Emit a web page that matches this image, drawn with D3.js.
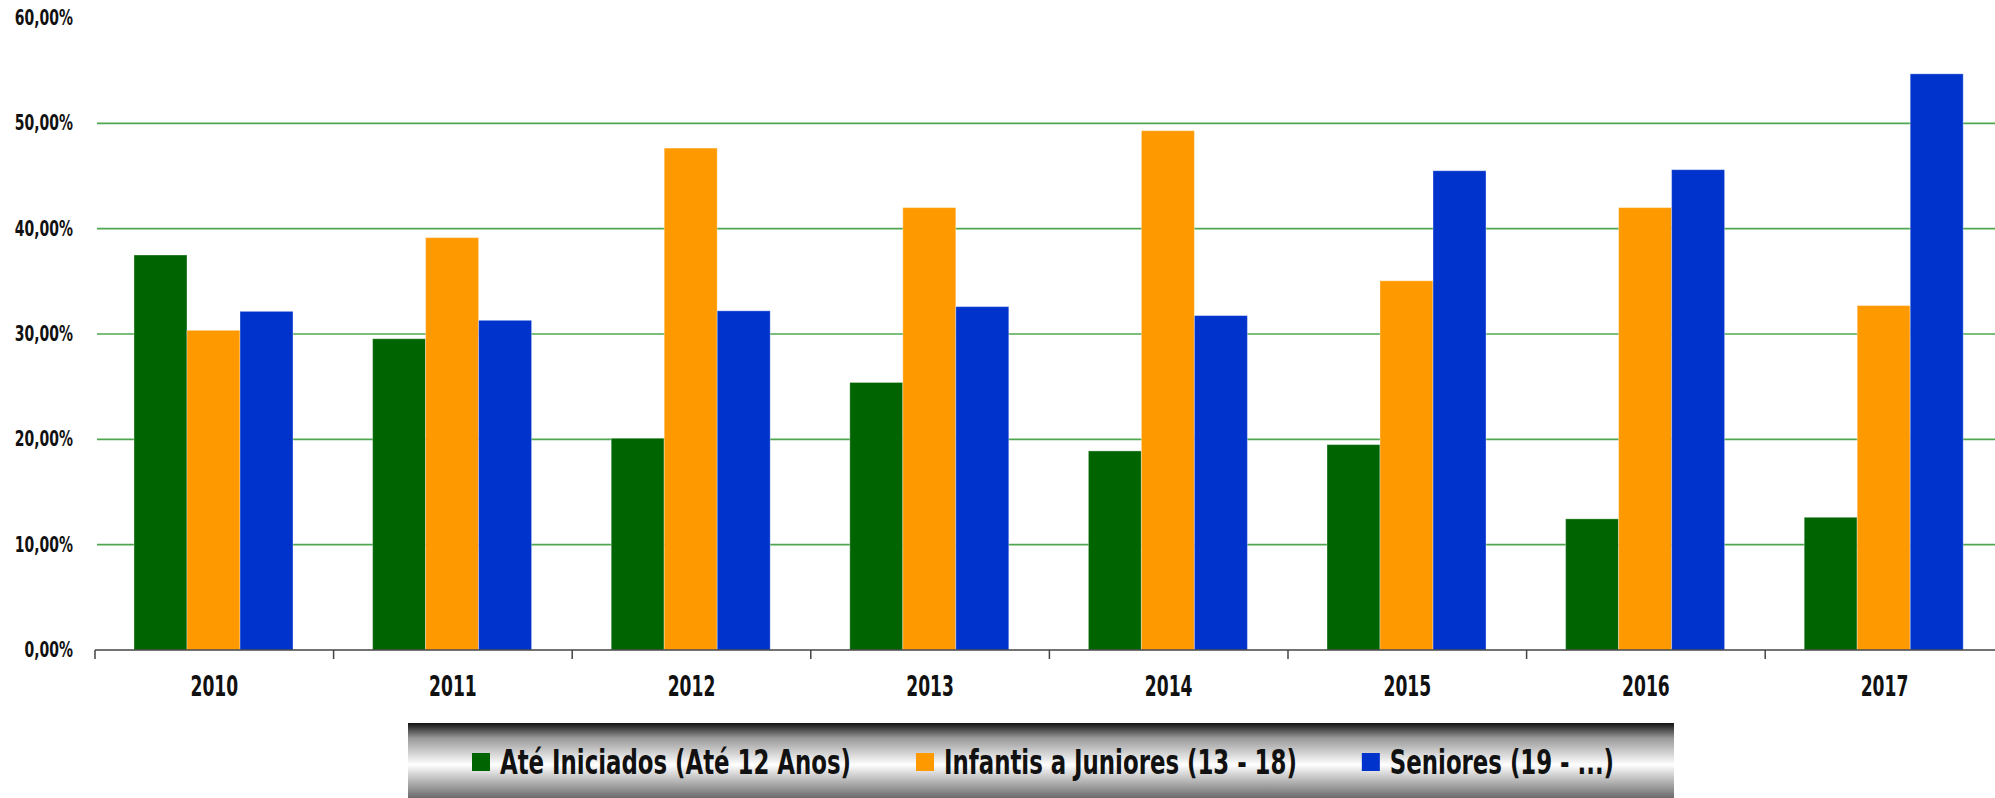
<!DOCTYPE html>
<html>
<head>
<meta charset="utf-8">
<script src="https://cdn.jsdelivr.net/npm/d3@7"></script>
<style>
  body { margin: 0; background: #fff; overflow: hidden; }
  svg { display: block; }
  text { font-family: 'DejaVu Sans Condensed', 'DejaVu Sans', sans-serif; font-weight: bold; fill: #111; }
</style>
</head>
<body>
<script>
// data
var years = ['2010','2011','2012','2013','2014','2015','2016','2017'];
var ateIniciados = [37.5, 29.55, 20.1, 25.4, 18.9, 19.5, 12.45, 12.6];
var infantisJuniores = [30.35, 39.15, 47.65, 42.0, 49.3, 35.05, 42.0, 32.7];
var seniores = [32.15, 31.3, 32.2, 32.6, 31.75, 45.5, 45.6, 54.7];
var seriesNames = ['Até Iniciados (Até 12 Anos)', 'Infantis a Juniores (13 - 18)', 'Seniores (19 - ...)'];
var seriesColors = ['#006400', '#ff9900', '#0033cc'];
var yTicks = [0, 10, 20, 30, 40, 50, 60];

var W = 1995, H = 798;
var svg = d3.select('body').append('svg').attr('width', W).attr('height', H);

var x0 = d3.scaleBand().domain(years).range([95, 95 + 8 * 238.6]).paddingInner(0).paddingOuter(0);
var x1 = d3.scaleBand().domain([0,1,2]).range([39, 39 + 159]);
var y = d3.scaleLinear().domain([0, 60]).range([650, 18]);

// narrow look: squeeze text horizontally
function squeeze(x, yy, s){ return 'translate(' + x + ',' + yy + ') scale(' + s + ',1)'; }

// gridlines
svg.append('g').selectAll('line').data(yTicks.filter(function(d){ return d > 0 && d < 60; }))
  .enter().append('line')
  .attr('x1', 97).attr('x2', W)
  .attr('y1', function(d){ return y(d); }).attr('y2', function(d){ return y(d); })
  .attr('stroke', '#4fa84f').attr('stroke-width', 1.6);

// y labels
svg.append('g').selectAll('text').data(yTicks).enter().append('text')
  .attr('transform', function(d){ return squeeze(73, y(d) + 7, 0.74); })
  .attr('text-anchor', 'end').attr('font-size', 21)
  .text(function(d){ return d.toFixed(2).replace('.', ',') + '%'; });

// bars
var allSeries = [ateIniciados, infantisJuniores, seniores];
var groups = svg.append('g').selectAll('g').data(years).enter().append('g')
  .attr('transform', function(d){ return 'translate(' + x0(d) + ',0)'; });
groups.selectAll('rect').data(function(d, i){ return allSeries.map(function(s, k){ return {k: k, v: s[i]}; }); })
  .enter().append('rect')
  .attr('x', function(d){ return x1(d.k); })
  .attr('width', x1.bandwidth())
  .attr('y', function(d){ return y(d.v); })
  .attr('height', function(d){ return y(0) - y(d.v); })
  .attr('fill', function(d){ return seriesColors[d.k]; })
  .attr('stroke', 'rgba(255,255,255,0.35)').attr('stroke-width', 1);

// x axis
var xAxis = svg.append('g');
xAxis.append('line').attr('x1', 95).attr('x2', W).attr('y1', 650).attr('y2', 650)
  .attr('stroke', '#444').attr('stroke-width', 1.5);
xAxis.selectAll('line.tk').data(years.concat(['end'])).enter().append('line')
  .attr('class', 'tk')
  .attr('x1', function(d, i){ return 95 + i * x0.step(); })
  .attr('x2', function(d, i){ return 95 + i * x0.step(); })
  .attr('y1', 650).attr('y2', 659)
  .attr('stroke', '#444').attr('stroke-width', 1.5);
xAxis.selectAll('text').data(years).enter().append('text')
  .attr('transform', function(d){ return squeeze(x0(d) + x0.bandwidth() / 2, 696, 0.68); })
  .attr('text-anchor', 'middle').attr('font-size', 28)
  .text(function(d){ return d; });

// legend
var defs = svg.append('defs');
var grad = defs.append('linearGradient').attr('id', 'lg').attr('x1', 0).attr('x2', 0).attr('y1', 0).attr('y2', 1);
grad.append('stop').attr('offset', 0).attr('stop-color', '#111');
grad.append('stop').attr('offset', 0.2).attr('stop-color', '#999');
grad.append('stop').attr('offset', 0.55).attr('stop-color', '#fff');
grad.append('stop').attr('offset', 1).attr('stop-color', '#666');
svg.append('rect').attr('x', 408).attr('y', 723).attr('width', 1266).attr('height', 76).attr('fill', 'url(#lg)');

var leg = svg.append('g');
var lx = 472, ls = 0.77;
seriesNames.forEach(function(name, k){
  leg.append('rect').attr('x', lx).attr('y', 753).attr('width', 18).attr('height', 18).attr('fill', seriesColors[k]);
  var t = leg.append('text').attr('transform', squeeze(lx + 28, 774, ls)).attr('font-size', 33).text(name);
  lx = lx + 28 + t.node().getComputedTextLength() * ls + 65;
});
</script>
</body>
</html>
